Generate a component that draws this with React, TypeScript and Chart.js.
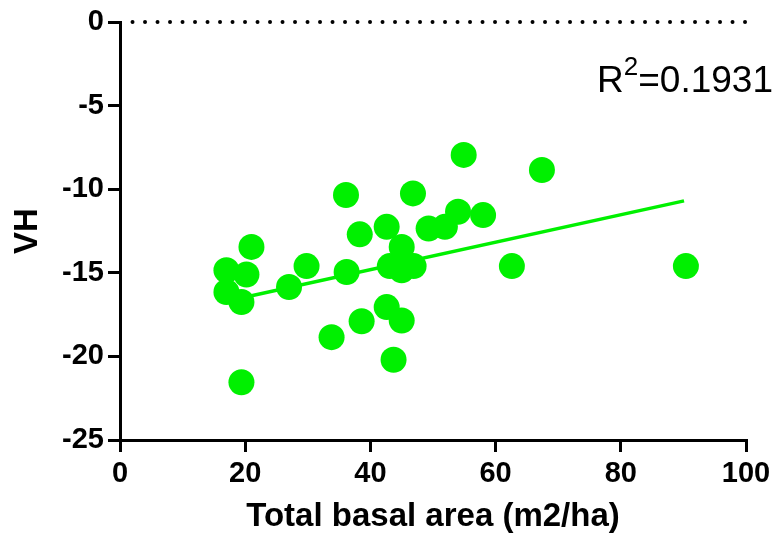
import React, { useEffect, useRef } from 'react';
import { Chart, registerables } from 'chart.js';

Chart.register(...registerables);

// Data
const basalArea = [54.9, 36.1, 46.8, 21.0, 38.3, 42.6, 45.0, 49.3, 51.9, 54.0, 58.0, 17.0, 20.2, 17.0, 19.4, 27.0, 29.8, 36.2, 43.1, 45.0, 46.9, 42.6, 45.0, 38.6, 33.8, 43.7, 19.4, 62.6, 67.4, 90.4];
const vhValues = [-7.95, -10.35, -10.25, -13.45, -12.7, -12.25, -13.45, -12.35, -12.25, -11.35, -11.55, -14.85, -15.1, -16.15, -16.75, -15.85, -14.6, -14.95, -14.6, -14.85, -14.6, -17.05, -17.85, -17.9, -18.85, -20.2, -21.55, -14.6, -8.85, -14.6];
const fitX = [17.0, 90.1];
const fitY = [-16.7, -10.7];
const zeroLineX = [2.0, 100.3];
const zeroLineY = [0, 0];
const xTicks = [0, 20, 40, 60, 80, 100];
const yTicks = [0, -5, -10, -15, -20, -25];
const r2Value = '0.1931';
const xTitle = 'Total basal area (m2/ha)';
const yTitle = 'VH';

const GREEN = '#00f000';
const FONT = '"Liberation Sans", Arial, Helvetica, sans-serif';

const r2Plugin = {
  id: 'r2Label',
  afterDatasetsDraw(chart: any) {
    const { ctx, chartArea } = chart;
    ctx.save();
    ctx.fillStyle = '#000';
    ctx.textBaseline = 'alphabetic';
    ctx.textAlign = 'left';
    const big = `37px ${FONT}`;
    const small = `26px ${FONT}`;
    const baseY = chartArea.top + 70;
    ctx.font = big;
    const wR = ctx.measureText('R').width;
    const wRest = ctx.measureText('=' + r2Value).width;
    ctx.font = small;
    const w2 = ctx.measureText('2').width;
    let x = chartArea.right + 27 - (wR + w2 + wRest);
    ctx.font = big;
    ctx.fillText('R', x, baseY);
    x += wR;
    ctx.font = small;
    ctx.fillText('2', x, baseY - 17);
    x += w2;
    ctx.font = big;
    ctx.fillText('=' + r2Value, x, baseY);
    ctx.restore();
  },
};

export default function App() {
  const canvasRef = useRef<HTMLCanvasElement | null>(null);

  useEffect(() => {
    if (!canvasRef.current) return;
    const points = basalArea.map((x, i) => ({ x, y: vhValues[i] }));
    const fit = fitX.map((x, i) => ({ x, y: fitY[i] }));
    const zero = zeroLineX.map((x, i) => ({ x, y: zeroLineY[i] }));

    const chart = new Chart(canvasRef.current, {
      type: 'scatter',
      data: {
        datasets: [
          {
            type: 'line',
            data: zero,
            borderColor: '#000',
            borderWidth: 4,
            borderDash: [0, 12.5],
            borderCapStyle: 'round',
            pointRadius: 0,
            clip: false,
            order: 3,
          } as any,
          {
            type: 'line',
            data: fit,
            borderColor: GREEN,
            borderWidth: 3.5,
            pointRadius: 0,
            order: 2,
          } as any,
          {
            data: points,
            backgroundColor: GREEN,
            borderColor: GREEN,
            borderWidth: 0,
            pointRadius: 13,
            order: 1,
          } as any,
        ],
      },
      options: {
        animation: false,
        responsive: true,
        maintainAspectRatio: false,
        events: [],
        layout: { padding: { top: 22, right: 33, left: 0, bottom: 0 } },
        plugins: {
          legend: { display: false },
          tooltip: { enabled: false },
        },
        scales: {
          x: {
            type: 'linear',
            min: 0,
            max: 100,
            afterBuildTicks: (scale: any) => {
              scale.ticks = xTicks.map((v) => ({ value: v }));
            },
            afterFit: (scale: any) => {
              scale.height = 100;
            },
            grid: {
              drawOnChartArea: false,
              drawTicks: true,
              tickLength: 12,
              color: '#000',
              lineWidth: 3,
            },
            border: { display: true, color: '#000', width: 3 },
            ticks: {
              color: '#000',
              padding: 5,
              maxRotation: 0,
              font: { family: FONT, size: 29, weight: 'bold' },
            },
            title: {
              display: true,
              text: xTitle,
              color: '#000',
              padding: { top: 0, bottom: 3 },
              font: { family: FONT, size: 33, weight: 'bold', lineHeight: 1.2 },
            },
          },
          y: {
            type: 'linear',
            min: -25,
            max: 0,
            afterBuildTicks: (scale: any) => {
              scale.ticks = yTicks.map((v) => ({ value: v }));
            },
            afterFit: (scale: any) => {
              scale.width = 120;
            },
            grid: {
              drawOnChartArea: false,
              drawTicks: true,
              tickLength: 12,
              color: '#000',
              lineWidth: 3,
            },
            border: { display: true, color: '#000', width: 3 },
            ticks: {
              color: '#000',
              padding: 4,
              font: { family: FONT, size: 29, weight: 'bold' },
            },
            title: {
              display: true,
              text: yTitle,
              color: '#000',
              padding: { top: 8, bottom: 0 },
              font: { family: FONT, size: 33, weight: 'bold', lineHeight: 1.2 },
            },
          },
        },
      } as any,
      plugins: [r2Plugin],
    });
    return () => chart.destroy();
  }, []);

  return (
    <div style={{ position: 'absolute', left: 0, top: 0, width: 779, height: 540, background: '#fff' }}>
      <canvas ref={canvasRef} />
    </div>
  );
}
